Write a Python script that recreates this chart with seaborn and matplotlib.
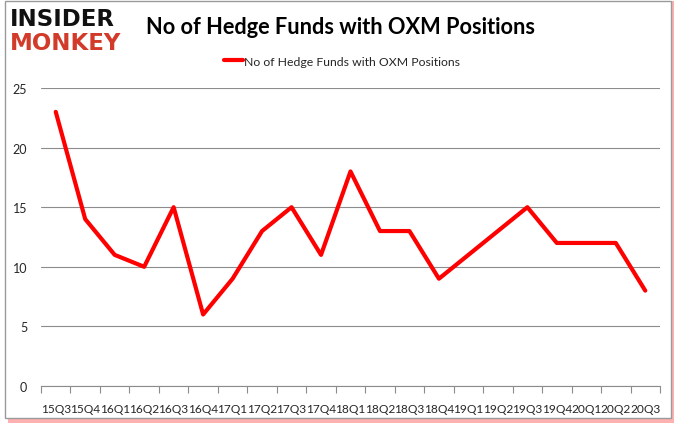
import matplotlib
matplotlib.use("Agg")
import matplotlib.pyplot as plt
import seaborn as sns
import pandas as pd
from matplotlib.patches import Rectangle

quarters = ["15Q3", "15Q4", "16Q1", "16Q2", "16Q3", "16Q4", "17Q1", "17Q2", "17Q3", "17Q4",
            "18Q1", "18Q2", "18Q3", "18Q4", "19Q1", "19Q2", "19Q3", "19Q4", "20Q1", "20Q2", "20Q3"]
funds = [23, 14, 11, 10, 15, 6, 9, 13, 15, 11, 18, 13, 13, 9, 11, 13, 15, 12, 12, 12, 8]
series_name = "No of Hedge Funds with OXM Positions"
y_ticks = [0, 5, 10, 15, 20, 25]

df = pd.DataFrame({"quarter": quarters, "funds": funds, "x": range(len(quarters))})

sns.set_style("white")
plt.rcParams['font.family'] = ['Lato', 'DejaVu Sans']

fig = plt.figure(figsize=(6.78, 4.31), dpi=100)
fig.patch.set_facecolor("white")

# frame with red shadow
fig.add_artist(Rectangle((8 / 678, 1 - 424 / 431), 666 / 678, 422 / 431, transform=fig.transFigure,
                         facecolor="#ff2020", edgecolor="none", alpha=0.35, zorder=-2))
fig.add_artist(Rectangle((5 / 678, 1 - 419 / 431), 666 / 678, 417 / 431, transform=fig.transFigure,
                         facecolor="white", edgecolor="#9a9a9a", linewidth=1, zorder=-1))

ax = fig.add_axes([41 / 678, 44 / 431, 619 / 678, 298 / 431])
ax.set_zorder(2)
ax.set_facecolor("none")
sns.lineplot(data=df, x="x", y="funds", ax=ax, color="#ff0000", linewidth=3, label=series_name,
             legend=False)

ax.set_xlim(-0.5, len(quarters) - 0.5)
ax.set_ylim(0, 25)
ax.set_yticks(y_ticks)
ax.set_yticklabels([str(v) for v in y_ticks], fontsize=9)
ax.set_xticks(range(len(quarters)))
ax.set_xticklabels(quarters, fontsize=8.6)
ax.set_xlabel("")
ax.set_ylabel("")
ax.grid(axis="y", color="#8c8c8c", linewidth=0.8)
for s in ["top", "right", "left"]:
    ax.spines[s].set_visible(False)
ax.spines["bottom"].set_color("#8c8c8c")
ax.tick_params(axis="y", length=0, pad=10)
ax.tick_params(axis="x", which="major", length=0, pad=12)
ax.set_xticks([i - 0.5 for i in range(len(quarters) + 1)], minor=True)
ax.tick_params(axis="x", which="minor", bottom=True, length=5, width=0.8, color="#8c8c8c",
               direction="out")

leg = ax.legend(loc="center", bbox_to_anchor=(342 / 678, 1 - 62 / 431), bbox_transform=fig.transFigure,
                frameon=False, fontsize=8.8, handlelength=1.6, handletextpad=0.1)

fig.text(340 / 678, 1 - 28 / 431, "No of Hedge Funds with OXM Positions", ha="center", va="center",
         fontsize=15.7, fontweight="bold", color="black")

fig.text(10 / 678, 1 - 19 / 431, "INSIDER", ha="left", va="center", fontsize=16.5,
         fontweight="heavy", color="#111111", family=["DejaVu Sans"])
fig.text(10 / 678, 1 - 43 / 431, "MONKEY", ha="left", va="center", fontsize=16.5,
         fontweight="heavy", color="#d23a2a", family=["DejaVu Sans"])

fig.savefig("out.png", dpi=100)
